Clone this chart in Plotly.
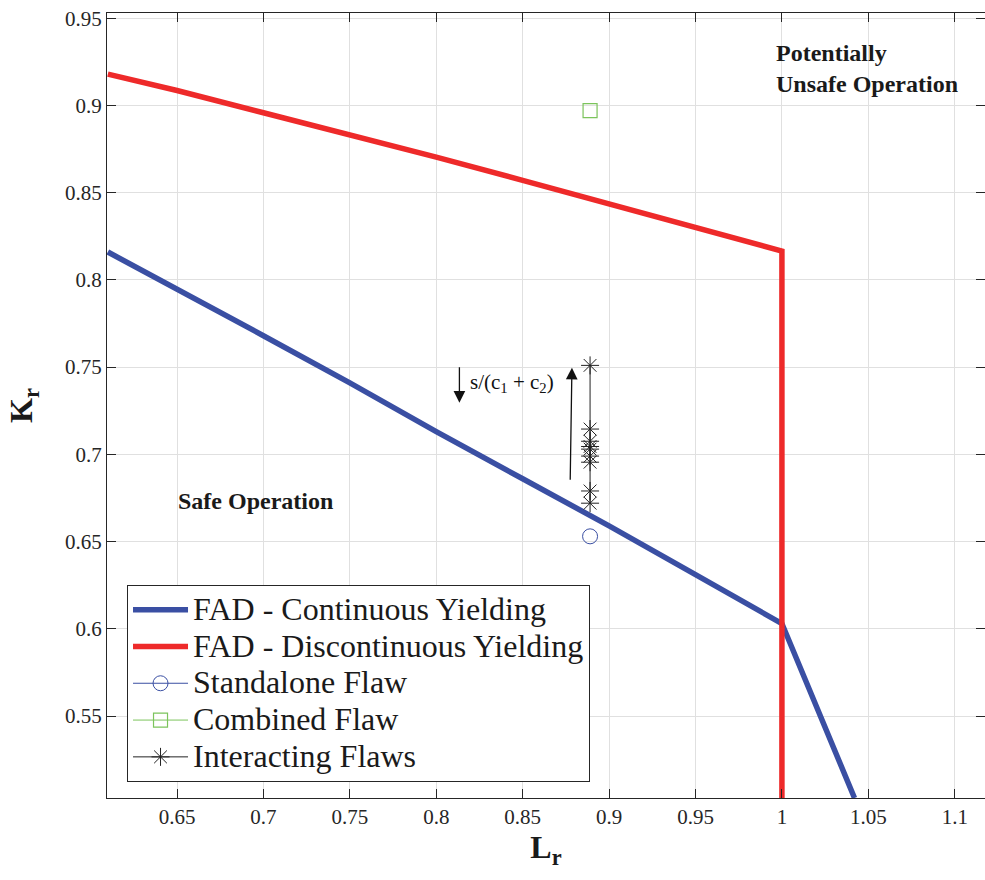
import plotly.graph_objects as go

# FAD curves
lr_cont = [0.61, 0.65, 0.70, 0.75, 0.80, 0.85, 0.90, 0.95, 1.00, 1.042]
kr_cont = [0.816, 0.795, 0.768, 0.741, 0.713, 0.686, 0.659, 0.631, 0.603, 0.503]

lr_disc = [0.61, 0.65, 0.70, 0.75, 0.80, 0.85, 0.90, 0.95, 1.00, 1.00]
kr_disc = [0.918, 0.9086, 0.8958, 0.8835, 0.8704, 0.8571, 0.8437, 0.8301, 0.8165, 0.503]

# Flaws
lr_standalone = [0.889]
kr_standalone = [0.653]
lr_combined = [0.889]
kr_combined = [0.897]
lr_interact = [0.889, 0.889, 0.889, 0.889, 0.889, 0.889, 0.889, 0.889, 0.889]
kr_interact = [0.751, 0.7145, 0.7075, 0.7045, 0.703, 0.699, 0.6955, 0.679, 0.672]

legend_names = ["FAD - Continuous Yielding", "FAD - Discontinuous Yielding",
                "Standalone Flaw", "Combined Flaw", "Interacting Flaws"]

BLUE = "#3a4fa3"
RED = "#ee2a2a"
GREEN = "#7cc45c"
FONT = "Liberation Serif, Times New Roman, serif"


def lname(s):
    return '<span style="font-size:32px">' + s + '</span>'


fig = go.Figure()
fig.add_trace(go.Scatter(x=lr_cont, y=kr_cont, mode="lines",
                         line=dict(color=BLUE, width=5.5),
                         name=lname(legend_names[0])))
fig.add_trace(go.Scatter(x=lr_disc, y=kr_disc, mode="lines",
                         line=dict(color=RED, width=5.5, shape="linear"),
                         name=lname(legend_names[1])))
fig.add_trace(go.Scatter(x=lr_standalone, y=kr_standalone, mode="lines+markers",
                         line=dict(color=BLUE, width=1),
                         marker=dict(symbol="circle-open", size=15, color=BLUE,
                                     line=dict(width=1)),
                         name=lname(legend_names[2])))
fig.add_trace(go.Scatter(x=lr_combined, y=kr_combined, mode="lines+markers",
                         line=dict(color=GREEN, width=1),
                         marker=dict(symbol="square-open", size=14, color=GREEN,
                                     line=dict(width=1.2)),
                         name=lname(legend_names[3])))
fig.add_trace(go.Scatter(x=lr_interact, y=kr_interact, mode="lines+markers",
                         line=dict(color="#222222", width=1),
                         marker=dict(symbol="asterisk-open", size=15, color="#222222",
                                     line=dict(width=1, color="#222222")),
                         name=lname(legend_names[4])))

axis_common = dict(
    showgrid=True, gridcolor="#e0e0e0", gridwidth=1,
    showline=True, linecolor="#262626", linewidth=1.2, mirror="ticks",
    ticks="inside", ticklen=9, tickcolor="#262626", tickwidth=1,
    zeroline=False,
    tickfont=dict(family=FONT, size=21, color="#262626"),
)

fig.update_xaxes(range=[0.6095, 1.1175], tick0=0, dtick=0.05,
                 title=dict(text="<b>L<sub>r</sub></b>", standoff=4,
                            font=dict(family=FONT, size=32, color="#1a1a1a")),
                 **axis_common)
fig.update_yaxes(range=[0.503, 0.953], tick0=0, dtick=0.05,
                 title=dict(text="<b>K<sub>r</sub></b>", standoff=22,
                            font=dict(family=FONT, size=32, color="#1a1a1a")),
                 **axis_common)

annotations = [
    # down arrow
    dict(x=0.8134, y=0.7296, ax=0.8134, ay=0.7508, xref="x", yref="y",
         axref="x", ayref="y", showarrow=True, arrowhead=2, arrowsize=1.8,
         arrowwidth=1.3, arrowcolor="#111111", text=""),
    # up arrow
    dict(x=0.8785, y=0.7497, ax=0.8775, ay=0.6846, xref="x", yref="y",
         axref="x", ayref="y", showarrow=True, arrowhead=2, arrowsize=1.8,
         arrowwidth=1.3, arrowcolor="#111111", text=""),
    dict(x=0.8185, y=0.741, xref="x", yref="y", xanchor="left", yanchor="middle",
         text="s/(c<sub>1</sub> + c<sub>2</sub>)", showarrow=False,
         font=dict(family=FONT, size=21, color="#111111")),
    dict(x=0.6956, y=0.673, xref="x", yref="y", xanchor="center", yanchor="middle",
         text="<b>Safe Operation</b>", showarrow=False,
         font=dict(family=FONT, size=24, color="#1a1a1a")),
    dict(x=0.9954, y=0.921, xref="x", yref="y", xanchor="left", yanchor="middle",
         align="left", text="<b>Potentially<br>Unsafe Operation</b>", showarrow=False,
         font=dict(family=FONT, size=24, color="#1a1a1a")),
]

fig.update_layout(
    width=985, height=880,
    margin=dict(l=107, r=0, t=13, b=82),
    plot_bgcolor="white", paper_bgcolor="white",
    font=dict(family=FONT, color="#1a1a1a"),
    annotations=annotations,
    showlegend=True,
    legend=dict(x=0.0228, y=0.271, xanchor="left", yanchor="top",
                bgcolor="white", bordercolor="#262626", borderwidth=1,
                font=dict(family=FONT, size=26, color="#1a1a1a"),
                itemwidth=55, tracegroupgap=0),
)

fig.write_html("out.html")
